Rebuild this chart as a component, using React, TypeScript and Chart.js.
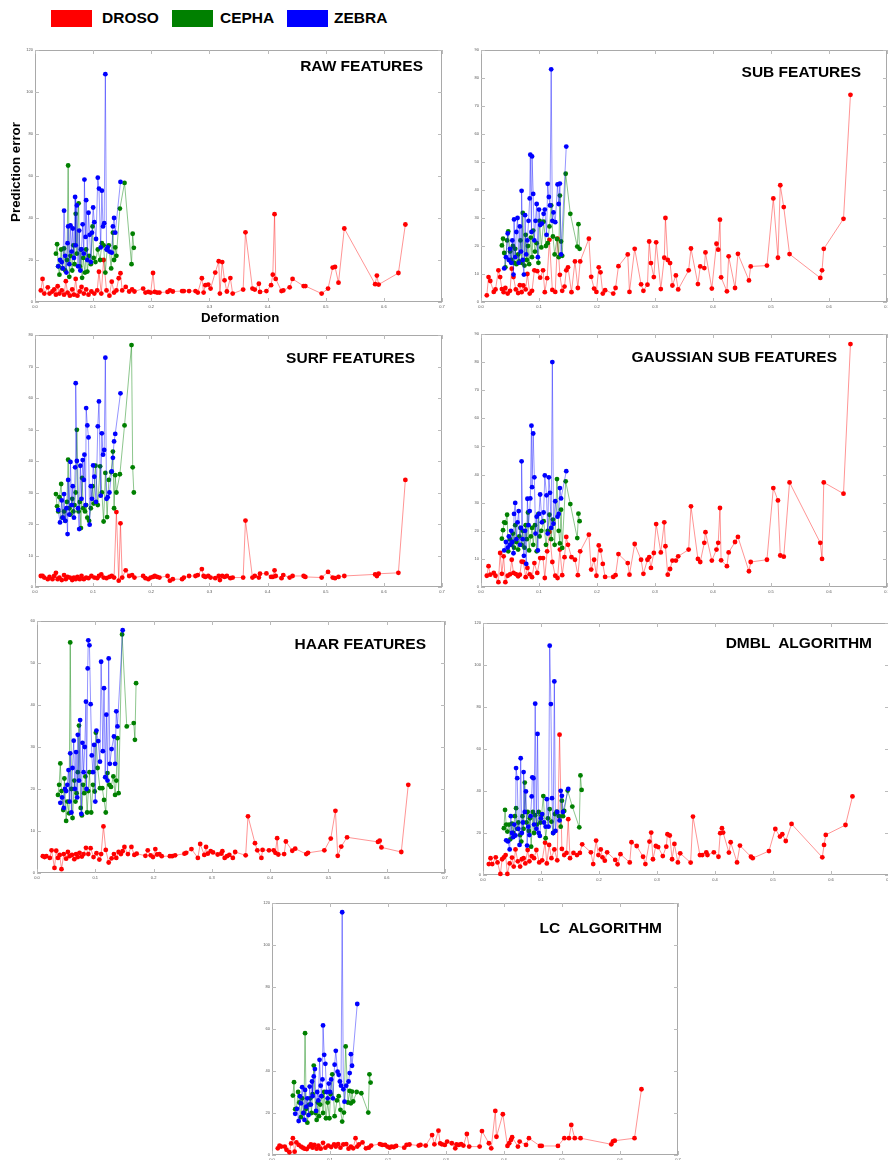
import React, { useEffect, useRef } from "react";
import { Chart, registerables } from "chart.js";

Chart.register(...registerables);
Chart.defaults.font.family = "'Liberation Sans', Arial, sans-serif";

// ---------- shared x values (deformation) ----------
const DROSO_X = [
  0.010, 0.013, 0.016, 0.022, 0.025, 0.030, 0.033, 0.036, 0.039, 0.042, 0.046, 0.050, 0.053, 0.056, 0.060, 0.064, 0.067, 0.070, 0.073, 0.077, 0.080,
  0.084, 0.088, 0.092, 0.097, 0.102, 0.107, 0.110, 0.114, 0.118, 0.123, 0.128, 0.132, 0.136, 0.140, 0.144, 0.147, 0.150, 0.156, 0.162, 0.167, 0.171,
  0.186, 0.190, 0.195, 0.199, 0.203, 0.206, 0.210, 0.214, 0.228, 0.232, 0.237, 0.253, 0.256, 0.265, 0.276, 0.280, 0.287, 0.290, 0.293, 0.298, 0.302,
  0.310, 0.316, 0.318, 0.322, 0.326, 0.330, 0.336, 0.340, 0.358, 0.362, 0.374, 0.378, 0.385, 0.387, 0.398, 0.406, 0.409, 0.412, 0.414, 0.424, 0.427,
  0.438, 0.443, 0.462, 0.465, 0.493, 0.504, 0.512, 0.516, 0.522, 0.532, 0.585, 0.588, 0.591, 0.625, 0.637,
];
const CEPHA_X = [
  0.036, 0.038, 0.040, 0.042, 0.045, 0.047, 0.050, 0.052, 0.055, 0.057, 0.059, 0.061, 0.064, 0.066, 0.068, 0.070, 0.072, 0.075, 0.077, 0.079,
  0.081, 0.083, 0.086, 0.088, 0.090, 0.093, 0.096, 0.099, 0.101, 0.104, 0.108, 0.112, 0.115, 0.118, 0.121, 0.124, 0.127, 0.131, 0.134, 0.136,
  0.138, 0.140, 0.146, 0.154, 0.166, 0.168, 0.170,
];
const ZEBRA_X = [
  0.040, 0.043, 0.046, 0.048, 0.050, 0.052, 0.054, 0.056, 0.057, 0.059, 0.061, 0.063, 0.065, 0.067, 0.069, 0.070, 0.072, 0.074, 0.076, 0.078,
  0.080, 0.082, 0.084, 0.085, 0.087, 0.088, 0.090, 0.092, 0.094, 0.096, 0.098, 0.100, 0.102, 0.105, 0.108, 0.110, 0.113, 0.115, 0.117, 0.119,
  0.121, 0.123, 0.125, 0.128, 0.132, 0.134, 0.136, 0.138, 0.147,
];

// ---------- RAW FEATURES ----------
const RAW_DROSO = [
  5.5, 11, 4, 7, 4, 5, 6, 3.5, 7.5, 4, 5.5, 3.5, 9.9, 4.5, 3, 6, 3.5, 11, 3, 5, 7.2, 4, 6, 3.5, 5, 4, 5.5, 14.4, 4, 20, 5.5, 3, 9.7, 4.5, 5.5, 11.3, 13.7, 5.5, 7.2, 5, 6, 5,
  6.4, 4.5, 4.8, 4.5, 13.8, 4.8, 4.5, 4.5, 4.8, 5.5, 5, 5.2, 5.2, 5.2, 5.2, 4.5, 11.3, 4.5, 8, 8.3, 6.4, 14, 19.4, 4, 19, 10.3, 5, 11.4, 4, 5.9, 33.2,
  6.4, 5.9, 8.7, 4.8, 5.2, 8, 13, 41.8, 11, 5.2, 5.5, 7, 11, 7.6, 7.6, 4, 6.4, 16.4, 16.7, 9.2, 35, 8.5, 12.6, 8.3, 13.8, 36.9,
];
const RAW_CEPHA = [
  23, 27.5, 17, 13, 25, 16, 25.5, 15, 20, 65, 12, 22, 15, 27, 18, 42, 23, 47, 17, 25, 11.5, 21, 14, 25, 14.5, 22, 18, 36, 21, 19,
  25, 20, 28, 27, 14, 25, 27, 16, 33, 20, 26, 22, 44.5, 56.7, 18, 32.5, 25.8,
];
const RAW_ZEBRA = [
  17, 20, 19, 16, 43.5, 22, 14, 28, 36, 18, 36.5, 24, 35, 21, 50, 27, 46, 17, 34, 15, 25, 37, 23, 58.3, 31, 48.5, 20, 42.5, 32, 19,
  33, 45, 38, 30, 59.2, 54, 26, 53, 36, 37.5, 108.5, 25, 26, 24, 23.5, 36, 40, 33, 57.2,
];

// ---------- SUB FEATURES ----------
const SUB_DROSO = [
  2.4, 8.9, 7.5, 3.6, 4.5, 11.3, 8.9, 4.6, 3.5, 5, 3, 4, 11.9, 8.9, 4.5, 3.2, 6, 3.5, 5.9, 4.5, 10, 3, 4, 11.3, 11, 8.7, 11.3, 3.5, 8.5, 22.2, 4.3, 3.6, 22.6, 9.7, 4, 5.5, 11.3, 12.4, 3.5, 14.5, 5, 14.5,
  22.6, 9, 4.8, 3.6, 12.4, 10.6, 3, 4.2, 3, 5, 12.8, 17, 3.6, 19, 6.3, 4, 6.2, 21.6, 13.9, 8.9, 21.3, 4.6, 15.8, 30, 15, 13.9, 5.9, 9.5, 4.5, 11.3,
  19.1, 6.4, 12.7, 12.1, 17.7, 4.8, 20.8, 18.7, 29.4, 8.8, 3.8, 16.3, 5, 17.2, 7.7, 12.7, 13, 37, 15.8, 41.7, 33.9, 17.1, 8.6, 11.3, 19, 29.7, 74,
];
const SUB_CEPHA = [
  20.2, 22.6, 17.5, 12.4, 22, 25.2, 18, 15, 20, 14, 19, 13.5, 17, 14.5, 22, 14, 31.8, 13, 24, 15, 20, 13.5, 23, 16, 25.5, 18, 21, 14, 29, 19.5,
  28.7, 20, 21, 27, 34.5, 23.4, 17, 22.5, 16, 38, 21.6, 16.5, 45.8, 31.5, 19.8, 27.8, 19,
];
const SUB_ZEBRA = [
  12, 16, 24.5, 15, 19, 14, 22, 9.8, 29.5, 16, 25, 30, 14, 27, 18, 39.7, 15, 9.8, 31, 17, 22, 29, 37, 52.6, 25, 52, 38.6, 22, 29, 35,
  16, 33, 27.5, 28, 31.5, 33, 24, 42.2, 37.5, 34.5, 83.1, 29, 32, 28.5, 42, 35, 42.3, 17, 55.5,
];

// ---------- SURF FEATURES ----------
const SURF_DROSO = [
  3.5, 3.5, 3, 2.5, 3.2, 2.5, 3.5, 4.5, 2.5, 3, 2.2, 3.8, 2.5, 3.2, 3, 2.2, 3, 2.5, 3.2, 2.5, 3.5, 2.5, 3, 2.8, 3.5, 3, 2.8, 3.5, 4, 3, 2.8, 3.2, 3.5, 3, 23.8, 2, 20.2, 3, 5.3, 3.5, 3.8, 3,
  3.5, 2.8, 2.5, 3, 3.2, 3.5, 3.2, 3, 3.5, 2, 2.5, 2.5, 3, 3.5, 3.5, 3.8, 5.7, 3.5, 3.2, 3.5, 3, 2.8, 3.5, 2.2, 3.5, 3.2, 3.5, 2.8, 3, 3,
  21.1, 3, 3.5, 3, 4.2, 4.3, 3.2, 3.2, 5.3, 3.5, 2.8, 3.8, 3, 3.5, 3.5, 3.2, 3, 4.8, 3, 2.8, 3.2, 3.5, 4, 3.5, 4.2, 4.5, 34,
];
const SURF_CEPHA = [
  29.5, 25.6, 24, 28.5, 32.7, 22, 24, 21, 27, 40.4, 25, 23, 28, 24, 26, 30, 49.9, 24, 27, 18.7, 34.6, 25, 24, 26, 22, 21, 25, 32, 26.5, 38.5,
  26, 38.3, 30, 20.8, 36.2, 22.2, 34, 36.5, 43, 25, 35.5, 30, 35.8, 51.3, 76.8, 38, 30,
];
const SURF_ZEBRA = [
  24.5, 20.5, 27.5, 22, 29.5, 21, 25, 16.8, 34, 23, 39.7, 26, 32, 22, 38, 64.7, 40, 25, 18.4, 38.5, 28, 40.3, 34, 42, 26, 56.8, 51.3, 47.5, 19.8, 32,
  28, 38.6, 35, 27, 51, 58.9, 29, 48.8, 42, 43.5, 72.8, 28, 28.5, 30, 36.7, 41, 46.2, 48.6, 61.5,
];

// ---------- GAUSSIAN SUB FEATURES ----------
const GAUSS_DROSO = [
  4, 7.4, 4.4, 5, 4, 1.7, 12.1, 4.7, 10.9, 1.7, 4, 4.5, 9.7, 5, 4.6, 3.8, 4.4, 9, 8.9, 3.5, 6.8, 4.5, 3.5, 8.5, 5, 10.3, 10.3, 3.2, 12.7, 19.6, 8.9, 4, 3.2, 13.3, 4.2, 10.6, 17.8, 15, 10.6, 9.7, 4.2, 12.7,
  18.6, 6.2, 9.7, 4, 14.8, 13, 8.2, 3.6, 3.6, 4.2, 11.7, 8.5, 4.4, 15.3, 9.7, 4.7, 9.7, 10.6, 6.8, 12.1, 22.4, 12.3, 23, 14.5, 4.4, 6.4, 9.4, 9.4, 10.9, 13.3,
  28.7, 10, 8.9, 15.7, 19.5, 9.4, 13.3, 15.7, 28.1, 9.5, 7.4, 12.3, 16, 17.8, 5.6, 8.9, 9.7, 35.2, 30.8, 11.2, 10.8, 37.2, 15.7, 10, 37.2, 33.2, 86.4,
];
const GAUSS_CEPHA = [
  17.2, 20.2, 23, 22.8, 25.7, 12.7, 17, 15, 19, 14, 22, 16, 13.3, 18, 21, 15, 20, 14, 22, 17, 26.5, 13, 18, 21, 15, 22, 12.7, 26, 18, 20,
  23.4, 15, 20, 25.7, 17, 24, 15, 38.4, 20, 15.5, 27.5, 13.9, 37.6, 29.5, 17.4, 26.1, 23.4,
];
const GAUSS_ZEBRA = [
  13, 16, 14, 18, 15, 20, 16, 12, 26, 29.9, 17, 23, 27, 15, 21, 44.7, 17, 11.1, 20, 8.2, 31.4, 22, 27, 31.5, 57.4, 35.5, 54.6, 39, 19, 25,
  13, 26, 32.9, 23, 26.5, 39.7, 32.6, 19, 39, 33.5, 21, 80, 22.5, 30.5, 25, 26, 35.2, 31.5, 41.2,
];

// ---------- HAAR FEATURES ----------
const HAAR_DROSO = [
  4, 3.8, 4, 3.6, 5.4, 1.2, 5.3, 3.6, 4.3, 0.9, 4.5, 3.4, 5, 4, 4.3, 3.3, 4.5, 3.8, 4.8, 3.9, 4.5, 6, 4.5, 5.9, 3.8, 4.7, 3.2, 4.5, 11.1, 5.5, 2.5, 3.5, 4.5, 3.6, 5, 4.5, 5.2, 6.2, 4.5, 6.2, 4.3, 4.6,
  4.1, 5.4, 4.2, 3.8, 5.7, 4.4, 4.5, 4, 4, 4, 4.2, 4.6, 4.8, 5.7, 3.6, 6.9, 4.3, 6.2, 4.6, 5.2, 4.9, 4.4, 4.6, 5.2, 3.6, 4, 4.3, 3.6, 5, 4.2,
  13.5, 7.1, 5.4, 3.6, 5.5, 5.4, 5.4, 4.8, 8.3, 4.4, 4.5, 7.5, 5.3, 5.8, 4.5, 4.8, 5.4, 8.2, 14.8, 4.1, 6.3, 8.5, 7.4, 7.7, 6.1, 5, 21,
];
const HAAR_CEPHA = [
  18.6, 21, 26.1, 19.5, 15, 22.5, 12.4, 17, 14.2, 54.9, 20, 13.1, 22, 17, 19, 24, 35.1, 15.5, 13.7, 21, 19, 23, 14.4, 19.5, 24, 14.4, 21, 19.4, 33.4, 25,
  20.2, 20.2, 17.4, 14.4, 23.8, 21, 20.5, 23, 18.6, 22, 32.1, 19, 56.8, 34.9, 35.7, 31.7, 45.2,
];
const HAAR_ZEBRA = [
  16.7, 18, 15.5, 20, 19.5, 21, 24.5, 17, 28.5, 14.4, 25, 31.5, 20, 28.8, 18, 32.9, 22, 36.4, 14.1, 31, 24, 30, 40.8, 20, 48.7, 55.4, 54.2, 40.2, 28, 24,
  30.5, 17, 33.9, 31.4, 26.5, 50.3, 29, 44, 22.8, 37.7, 22, 51.1, 26, 29.5, 32.5, 26, 38.5, 34.9, 57.8,
];

// ---------- DMBL ALGORITHM ----------
const DMBL_DROSO = [
  5.2, 8, 5.2, 8.4, 6, 0.5, 7.5, 8.4, 9.5, 0.5, 5.5, 8.3, 4, 12.2, 6.5, 4, 7.5, 8, 5.5, 11.9, 6.5, 9, 8, 11.9, 6, 7, 15.4, 5.5, 14.3, 8, 12.2, 7, 66.8, 12.4, 9.5, 10.5, 26.6, 8, 10.5, 9.5, 10.5, 14.6,
  10.8, 5.2, 16.4, 9.5, 12.2, 8.4, 6.8, 10.8, 7.2, 5.1, 9.9, 6, 15.6, 13.8, 8.7, 5.2, 15.9, 20.2, 7.5, 13.8, 13.3, 9, 13.5, 19.4, 18.8, 7.5, 14.8, 6, 10.3, 5.9,
  27.8, 9.5, 9.5, 10.8, 9.5, 10.8, 8.7, 19.9, 22.3, 20.2, 10.7, 15.6, 6, 14, 8.7, 8, 11.4, 21.9, 18.3, 19.4, 16.2, 24.3, 8.4, 14.3, 19.1, 23.8, 37.4,
];
const DMBL_CEPHA = [
  22.3, 31, 24, 20.7, 24, 17, 24.5, 20, 28, 31.8, 22, 25, 19, 15.9, 28, 22, 44, 25, 30, 21, 27, 13.5, 30, 20, 28.5, 24, 30, 25, 28.5, 37.6,
  17.5, 27, 31.4, 25.4, 20, 29, 30.2, 28, 23, 35.4, 28, 30.5, 40.2, 32.6, 22.7, 47.4, 40.5,
];
const DMBL_ZEBRA = [
  16.5, 16, 12.2, 28, 20, 18, 24, 18.8, 50.9, 46.1, 22, 14.3, 55.6, 20, 25, 49, 30, 39.8, 14, 23, 19, 28, 37.4, 46.5, 46.1, 24, 81.6, 22, 67.2, 20,
  18.6, 27, 29, 25, 23, 36.1, 23, 109.2, 81.4, 36.6, 20, 92.2, 21, 30, 26, 40.1, 37.7, 30, 41,
];

// ---------- LC ALGORITHM ----------
const LC_DROSO = [
  3.2, 4.5, 4, 4, 2.5, 1.3, 5.5, 8, 1.6, 6, 4.8, 4, 3.5, 3, 2.8, 4, 5, 3.5, 4.8, 3, 4.5, 3, 5.8, 3.5, 4.5, 3.8, 5, 4, 5.2, 3.5, 5, 5.2, 3, 4, 3.2, 8, 4, 5, 6, 3.2, 3.5, 4.5,
  5.2, 4.8, 4.8, 4, 3.5, 4, 3.8, 4.3, 3.5, 4.8, 5, 4.5, 4.8, 4.5, 9.5, 5.1, 11.6, 5.5, 5.1, 4.8, 6.4, 5.6, 3.2, 5, 4.8, 5.2, 4.5, 10, 4, 4,
  11.4, 5.6, 3.2, 21, 8.7, 19.4, 4.3, 5.6, 7.2, 8.5, 4, 6.4, 4.8, 8, 4.3, 4.3, 4.3, 8, 8, 14.3, 8, 8, 5.1, 6.5, 6.8, 8, 31.3,
];
const LC_CEPHA = [
  28.3, 34.7, 21.8, 22, 30, 25, 18, 27, 20, 58, 22, 15.4, 24, 27, 20, 29, 42.6, 20, 16.7, 25, 18.5, 24, 28, 20, 30, 17.5, 25, 17.5, 29, 38.4,
  18.5, 26, 28, 21.5, 15.9, 20.2, 51.7, 25, 30.5, 24.6, 30.2, 25.5, 30, 29.4, 20.2, 38.4, 34.5,
];
const LC_ZEBRA = [
  19.6, 22, 16.2, 28, 24.6, 32.3, 20, 16.7, 31, 23, 27, 19, 32.6, 24, 35, 28, 37.4, 40.9, 21, 30, 26, 45.3, 33, 28, 36, 61.7, 47.7, 43.4, 30, 27,
  34, 30, 36, 27, 43, 49.6, 39.7, 38.2, 35, 33, 115.6, 31.3, 25.4, 33, 35, 39, 48, 42.5, 71.9,
];

const X_TICKS_MAX = 0.7;
const X_TICK_STEP = 0.1;

const SERIES = [
  { name: "DROSO", color: "#ff0000", line: "rgba(255,0,0,0.42)" },
  { name: "CEPHA", color: "#008000", line: "rgba(0,128,0,0.45)" },
  { name: "ZEBRA", color: "#0000ff", line: "rgba(0,0,255,0.42)" },
];

const PANELS = [
  { title: "RAW FEATURES", box: [35, 50, 442, 302], ymax: 120, ystep: 20, tr: 423, ty: 66, d: RAW_DROSO, c: RAW_CEPHA, z: RAW_ZEBRA },
  { title: "SUB FEATURES", box: [481, 50, 887, 302], ymax: 90, ystep: 10, tr: 861, ty: 72, d: SUB_DROSO, c: SUB_CEPHA, z: SUB_ZEBRA },
  { title: "SURF FEATURES", box: [35, 335, 442, 587], ymax: 80, ystep: 10, tr: 415, ty: 358, d: SURF_DROSO, c: SURF_CEPHA, z: SURF_ZEBRA },
  { title: "GAUSSIAN SUB FEATURES", box: [481, 334, 887, 587], ymax: 90, ystep: 10, tr: 837, ty: 357, d: GAUSS_DROSO, c: GAUSS_CEPHA, z: GAUSS_ZEBRA },
  { title: "HAAR FEATURES", box: [37, 621, 445, 873], ymax: 60, ystep: 10, tr: 426, ty: 644, d: HAAR_DROSO, c: HAAR_CEPHA, z: HAAR_ZEBRA },
  { title: "DMBL  ALGORITHM", box: [483, 623, 889, 875], ymax: 120, ystep: 20, tr: 872, ty: 643, d: DMBL_DROSO, c: DMBL_CEPHA, z: DMBL_ZEBRA },
  { title: "LC  ALGORITHM", box: [272, 903, 678, 1155], ymax: 120, ystep: 20, tr: 662, ty: 928, d: LC_DROSO, c: LC_CEPHA, z: LC_ZEBRA },
];

const PAD = { l: 30, t: 10, r: 6, b: 14 };

const pts = (xs: number[], ys: number[]) => {
  const n = Math.min(xs.length, ys.length);
  const out: { x: number; y: number }[] = [];
  for (let i = 0; i < n; i++) out.push({ x: xs[i], y: ys[i] });
  return out;
};

const frameTicks = {
  id: "frameTicks",
  beforeDatasetsDraw(chart: any) {
    const { ctx, chartArea, scales } = chart;
    const { left, top, right, bottom } = chartArea;
    ctx.save();
    ctx.strokeStyle = "#a9a9a9";
    ctx.lineWidth = 1;
    ctx.strokeRect(Math.round(left) + 0.5, Math.round(top) + 0.5, Math.round(right - left) - 1, Math.round(bottom - top) - 1);
    ctx.strokeStyle = "#bbbbbb";
    ctx.beginPath();
    const L = 4;
    scales.x.ticks.forEach((t: any) => {
      const px = Math.round(scales.x.getPixelForValue(t.value)) + 0.5;
      ctx.moveTo(px, bottom);
      ctx.lineTo(px, bottom - L);
      ctx.moveTo(px, top);
      ctx.lineTo(px, top + L);
    });
    scales.y.ticks.forEach((t: any) => {
      const py = Math.round(scales.y.getPixelForValue(t.value)) + 0.5;
      ctx.moveTo(left, py);
      ctx.lineTo(left + L, py);
      ctx.moveTo(right, py);
      ctx.lineTo(right - L, py);
    });
    ctx.stroke();
    ctx.restore();
  },
};

function Panel({ cfg }: { cfg: any }) {
  const ref = useRef<HTMLCanvasElement>(null);
  const [l, t, r, b] = cfg.box;
  const w = r - l + PAD.l + PAD.r;
  const h = b - t + PAD.t + PAD.b;
  useEffect(() => {
    if (!ref.current) return;
    const mk = (s: any, xs: number[], ys: number[]) => ({
      label: s.name,
      data: pts(xs, ys),
      showLine: true,
      borderColor: s.line,
      borderWidth: 1,
      pointRadius: 2.4,
      pointHoverRadius: 2.4,
      pointBorderWidth: 0,
      pointBackgroundColor: s.color,
      clip: 6,
    });
    const chart = new Chart(ref.current, {
      type: "scatter",
      data: {
        datasets: [
          mk(SERIES[2], ZEBRA_X, cfg.z),
          mk(SERIES[1], CEPHA_X, cfg.c),
          mk(SERIES[0], DROSO_X, cfg.d),
        ],
      },
      options: {
        animation: false,
        responsive: false,
        devicePixelRatio: 1,
        events: [],
        layout: { padding: { left: 0, top: PAD.t, right: PAD.r, bottom: 0 } },
        plugins: { legend: { display: false }, tooltip: { enabled: false } },
        scales: {
          x: {
            type: "linear",
            min: 0,
            max: X_TICKS_MAX,
            afterFit: (s: any) => {
              s.height = PAD.b;
            },
            grid: { display: false, drawTicks: false },
            border: { display: false },
            ticks: {
              stepSize: X_TICK_STEP,
              autoSkip: false,
              maxRotation: 0,
              padding: 2,
              color: "#555",
              font: { size: 4 },
              callback: (v: any) => Number(v).toFixed(1),
            },
          },
          y: {
            type: "linear",
            min: 0,
            max: cfg.ymax,
            afterFit: (s: any) => {
              s.width = PAD.l;
            },
            grid: { display: false, drawTicks: false },
            border: { display: false },
            ticks: {
              stepSize: cfg.ystep,
              autoSkip: false,
              padding: 2,
              color: "#555",
              font: { size: 4 },
              callback: (v: any) => String(Math.round(Number(v))),
            },
          },
        },
      },
      plugins: [frameTicks],
    } as any);
    return () => chart.destroy();
  }, [cfg]);
  return (
    <canvas
      ref={ref}
      width={w}
      height={h}
      style={{ position: "absolute", left: l - PAD.l, top: t - PAD.t, width: w, height: h }}
    />
  );
}

const boldText: React.CSSProperties = {
  position: "absolute",
  fontFamily: "'Liberation Sans', Arial, sans-serif",
  fontWeight: "bold",
  color: "#000",
  whiteSpace: "pre",
  lineHeight: "18px",
  height: 18,
};

export default function App() {
  const legend = [
    { s: SERIES[0], rx: 51, tx: 102 },
    { s: SERIES[1], rx: 172, tx: 220 },
    { s: SERIES[2], rx: 287, tx: 334 },
  ];
  return (
    <div style={{ position: "absolute", left: 0, top: 0, width: 888, height: 1160, overflow: "hidden", background: "#fff" }}>
      {legend.map((g) => (
        <React.Fragment key={g.s.name}>
          <div style={{ position: "absolute", left: g.rx, top: 10, width: 41, height: 17, background: g.s.color }} />
          <div style={{ ...boldText, left: g.tx, top: 9, fontSize: 15.5 }}>{g.s.name}</div>
        </React.Fragment>
      ))}
      {PANELS.map((p) => (
        <Panel key={p.title} cfg={p} />
      ))}
      {PANELS.map((p) => (
        <div key={"t" + p.title} style={{ ...boldText, right: 888 - p.tr, top: p.ty - 9, fontSize: 15.5 }}>
          {p.title}
        </div>
      ))}
      <div
        style={{
          ...boldText,
          fontSize: 13.3,
          left: 16 - 60,
          top: 172 - 9,
          width: 120,
          textAlign: "center",
          transform: "rotate(-90deg)",
        }}
      >
        Prediction error
      </div>
      <div style={{ ...boldText, fontSize: 13.3, left: 201, top: 318 - 9 }}>Deformation</div>
    </div>
  );
}
